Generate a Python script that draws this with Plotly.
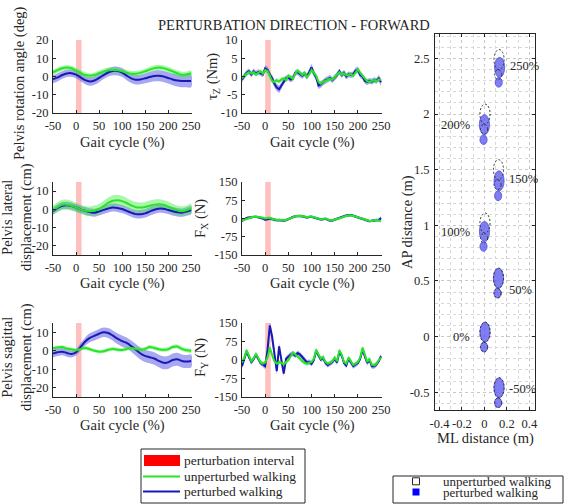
import plotly.graph_objects as go
import numpy as np

# ---------------- data ----------------
gait_x = list(range(-50, 251, 10))
force_x = list(range(-50, 251, 5))
perturbation_interval = [0, 12]

rot_unpert = [2.2, 3.5, 4.5, 4.9, 4.5, 3.3, 2.0, 0.8, 0.4, 0.8, 1.8, 2.8, 3.4, 3.6, 3.4, 2.8, 2.0, 1.5, 1.5, 2.0,
              2.8, 3.8, 4.6, 4.9, 4.6, 3.8, 2.8, 1.8, 1.0, 1.2, 1.8]
rot_unpert_sd = [1.5, 1.5, 1.4, 1.4, 1.4, 1.5, 1.5, 1.5, 1.4, 1.4, 1.5, 1.5, 1.5, 1.4, 1.4, 1.5, 1.5, 1.5, 1.5, 1.4,
                 1.4, 1.5, 1.5, 1.5, 1.5, 1.5, 1.6, 1.6, 1.6, 1.6, 1.6]
rot_pert = [-1.5, -0.5, 0.8, 1.7, 1.8, 1.0, -0.5, -2.0, -2.7, -2.2, -0.8, 0.8, 2.2, 3.0, 3.0, 2.2, 0.5, -1.0, -1.8,
            -1.6, -1.0, -0.3, 0.3, 0.4, 0.0, -0.8, -1.6, -2.2, -2.5, -2.5, -2.4]
rot_pert_sd = [2.2, 2.2, 2.1, 2.0, 2.0, 2.0, 2.1, 2.2, 2.3, 2.3, 2.3, 2.2, 2.2, 2.3, 2.4, 2.4, 2.5, 2.5, 2.6, 2.6,
               2.7, 2.8, 2.9, 3.0, 3.0, 3.1, 3.2, 3.3, 3.4, 3.4, 3.5]

lat_unpert = [-0.5, 1.2, 2.5, 2.6, 2.0, 1.0, 0.0, -0.8, -1.0, -0.6, 0.2, 1.8, 3.5, 4.7, 5.0, 4.5, 3.5, 2.2, 1.2, 1.0,
              1.3, 2.0, 2.6, 2.8, 2.5, 1.6, 0.5, -0.5, -1.0, -0.5, 0.5]
lat_unpert_sd = [2.6, 2.7, 2.8, 2.8, 2.7, 2.6, 2.5, 2.5, 2.6, 2.7, 2.8, 2.9, 3.0, 3.0, 3.0, 2.9, 2.8, 2.8, 2.8, 2.8,
                 2.8, 2.8, 2.8, 2.8, 2.7, 2.7, 2.6, 2.6, 2.6, 2.6, 2.6]
lat_pert = [-1.0, 0.8, 2.0, 2.2, 1.8, 1.0, 0.0, -0.8, -1.5, -1.8, -1.2, -0.3, 0.5, 1.0, 0.8, 0.2, -0.8, -1.8, -2.6,
            -2.7, -2.2, -1.2, -0.2, 0.4, 0.3, -0.3, -1.0, -1.6, -1.8, -1.2, -0.4]
lat_pert_sd = [2.0, 2.0, 2.0, 2.0, 2.0, 2.0, 2.0, 2.1, 2.1, 2.2, 2.2, 2.2, 2.2, 2.2, 2.2, 2.2, 2.2, 2.2, 2.3, 2.3,
               2.3, 2.3, 2.3, 2.3, 2.3, 2.3, 2.3, 2.3, 2.3, 2.3, 2.3]

sag_unpert = [1.3, 1.8, 2.0, 1.2, 0.8, 0.3, 1.0, 1.5, 0.8, 0.0, -0.5, -0.3, 0.5, 1.0, 0.6, 0.4, 1.0, 1.5, 1.0, 0.5,
              1.0, 2.0, 1.5, 0.8, 0.5, 0.8, 2.0, 2.3, 1.0, 0.3, 0.0]
sag_unpert_sd = [1.0, 1.0, 1.0, 1.0, 1.0, 1.0, 1.0, 1.0, 1.0, 1.0, 1.0, 1.0, 1.0, 1.0, 1.0, 1.0, 1.0, 1.1, 1.1, 1.1,
                 1.1, 1.1, 1.1, 1.1, 1.1, 1.1, 1.1, 1.1, 1.1, 1.1, 1.1]
sag_pert = [-1.5, -0.8, -0.5, -1.2, -1.8, -0.8, 2.0, 5.0, 7.0, 8.0, 9.2, 10.0, 9.6, 8.2, 6.5, 5.2, 4.2, 2.5, 0.5,
            -1.5, -2.8, -3.5, -4.2, -5.5, -6.5, -6.3, -5.0, -4.6, -5.5, -5.8, -5.5]
sag_pert_sd = [2.0, 2.0, 2.0, 2.0, 1.8, 1.8, 2.0, 2.2, 2.4, 2.5, 2.6, 2.6, 2.7, 2.8, 2.9, 3.0, 3.0, 3.1, 3.2, 3.2,
               3.3, 3.3, 3.4, 3.4, 3.5, 3.5, 3.5, 3.5, 3.5, 3.5, 3.5]

tz_unpert = [-0.5, 0.2, 0.8, 1.2, 0.8, 1.2, 0.6, 1.0, 1.4, 0.8, 1.8, 1.5, 0.2, -1.2, -1.5, -1.0, -1.4, -0.8, -0.6,
             -1.0, 0.2, -0.3, -0.6, 0.8, 1.6, 1.0, 0.4, 1.0, -0.2, 0.6, 1.8, 1.0, 0.2, -1.5, -2.0, -1.5, -1.2, -0.9,
             -0.6, -0.9, -0.2, 0.6, 1.2, 0.5, 0.9, 0.3, 0.4, 0.6, 0.2, 1.2, 2.0, 1.0, 0.2, -0.8, -1.3, -1.4, -1.2,
             -1.0, -1.3, -0.8, -1.0]
tz_unpert_sd = [0.6, 0.6, 0.6, 0.6, 0.6, 0.6, 0.6, 0.6, 0.6, 0.6, 0.7, 0.7, 0.7, 0.7, 0.6, 0.6, 0.6, 0.6, 0.6, 0.6,
                0.6, 0.6, 0.6, 0.6, 0.6, 0.6, 0.6, 0.6, 0.6, 0.6, 0.7, 0.7, 0.6, 0.6, 0.6, 0.6, 0.6, 0.6, 0.6, 0.6,
                0.6, 0.6, 0.6, 0.6, 0.6, 0.6, 0.6, 0.6, 0.6, 0.6, 0.7, 0.7, 0.6, 0.6, 0.6, 0.6, 0.6, 0.6, 0.6, 0.6,
                0.6]
tz_pert = [-0.8, 0.0, 1.0, 1.4, 0.6, 1.4, 0.8, 1.2, 1.0, 0.6, 2.2, 1.8, 0.5, -0.5, -2.0, -3.0, -3.5, -2.5, -1.2,
           -0.5, -0.3, -0.8, -0.4, 1.0, 1.2, 0.6, 0.2, 0.8, 0.0, 1.2, 2.5, 0.8, -0.2, -2.5, -2.2, -1.6, -1.0, -0.8,
           -0.4, -1.0, -0.4, 0.4, 1.4, 0.4, 1.0, 0.0, 0.6, 0.4, 0.6, 1.6, 1.8, 0.4, 0.0, -1.2, -1.5, -1.2, -1.4,
           -1.0, -1.2, -0.5, -1.6]
tz_pert_sd = [0.8, 0.8, 0.8, 0.8, 0.8, 0.8, 0.8, 0.8, 0.8, 0.8, 0.9, 0.9, 0.9, 1.0, 1.0, 1.0, 1.0, 0.9, 0.9, 0.8,
              0.8, 0.8, 0.8, 0.8, 0.8, 0.8, 0.8, 0.8, 0.8, 0.9, 1.0, 0.9, 0.8, 0.9, 0.9, 0.8, 0.8, 0.8, 0.8, 0.8,
              0.8, 0.8, 0.8, 0.8, 0.8, 0.8, 0.8, 0.8, 0.8, 0.9, 0.9, 0.8, 0.8, 0.8, 0.8, 0.8, 0.8, 0.8, 0.8, 0.9,
              1.0]

fx_unpert = [-8, -4, 0, 3, 5, 7, 8, 6, 5, 2, 0, 2, 3, -1, -5, -6, -5, -7, -8, -6, -3, 1, 5, 10, 12, 11, 10, 7, 5,
             7, 8, 5, 2, -1, -3, -2, 0, -4, -8, -7, -5, -2, 0, 4, 8, 11, 12, 13, 12, 8, 5, 2, 0, -4, -8, -10, -10,
             -8, -5, -8, -12]
fx_unpert_sd = [5, 5, 5, 5, 5, 5, 5, 5, 5, 5, 5, 5, 5, 5, 5, 5, 5, 5, 5, 5, 5, 5, 5, 5, 5, 5, 5, 5, 5, 5, 5, 5, 5,
                5, 5, 5, 5, 5, 5, 5, 5, 5, 5, 5, 5, 5, 5, 5, 5, 5, 5, 5, 5, 5, 5, 5, 5, 5, 5, 5, 5]
fx_pert = [-10, -3, 2, 4, 6, 8, 7, 5, 3, 0, -5, -3, 0, -2, -6, -7, -6, -8, -9, -7, -2, 2, 6, 9, 11, 10, 9, 6, 4, 6,
           7, 4, 1, -2, -4, -3, -1, -5, -9, -8, -4, -1, 1, 5, 9, 12, 13, 14, 11, 7, 4, 1, -1, -5, -9, -11, -9, -7,
           -6, -6, 2]
fx_pert_sd = [5, 5, 5, 5, 5, 5, 5, 5, 5, 5, 6, 6, 6, 6, 6, 5, 5, 5, 5, 5, 5, 5, 5, 5, 5, 5, 5, 5, 5, 5, 5, 5, 5, 5,
              5, 5, 5, 5, 5, 5, 5, 5, 5, 5, 5, 5, 5, 5, 5, 5, 5, 5, 5, 5, 5, 5, 5, 5, 5, 6, 7]

fy_unpert = [-10, 10, 40, 15, -5, 5, 25, 8, -10, -15, -10, 10, 50, 20, -5, -15, -8, -12, -18, -8, 0, 15, 30, 22, 15,
             5, -5, -12, -15, -10, -8, 5, 42, 22, 5, 12, -8, -15, -12, -5, 10, -5, 40, 22, -8, -15, 10, -5, -20,
             -15, -8, 10, 50, 22, -8, 5, -20, -22, -15, 0, 10]
fy_unpert_sd = [8, 8, 8, 8, 8, 8, 8, 8, 8, 8, 8, 8, 9, 8, 8, 8, 8, 8, 8, 8, 8, 8, 8, 8, 8, 8, 8, 8, 8, 8, 8, 8, 8,
                8, 8, 8, 8, 8, 8, 8, 8, 8, 8, 8, 8, 8, 8, 8, 8, 8, 8, 8, 9, 8, 8, 8, 8, 8, 8, 8, 8]
fy_pert = [-25, 5, 35, 12, -8, 3, 22, 5, -12, -18, -25, 40, 140, 95, 15, -45, 55, 5, -55, 5, 15, 22, 25, 18, 28, 22,
           12, 0, -10, -8, -15, 0, 38, 18, 2, 8, -12, -20, -15, -8, 5, -10, 32, 18, -12, -22, 5, -10, -25, -18, -12,
           5, 42, 15, -12, 0, -25, -25, -18, -5, 15]
fy_pert_sd = [10, 10, 10, 10, 10, 10, 10, 10, 10, 10, 12, 15, 18, 16, 14, 14, 14, 12, 12, 10, 10, 10, 10, 10, 10,
              10, 10, 10, 10, 10, 10, 10, 10, 10, 10, 10, 10, 10, 10, 10, 10, 10, 10, 10, 10, 10, 10, 10, 10, 10, 10,
              10, 10, 10, 10, 10, 10, 10, 10, 10, 10]

# footprints (forefoot centres, metres)
fp_labels = ['-50%', '0%', '50%', '100%', '150%', '200%', '250%']
pert_ml = [0.13, 0.005, 0.125, 0.0, 0.13, 0.0, 0.135]
pert_ap = [-0.46, 0.04, 0.525, 0.945, 1.40, 1.905, 2.42]
unpert_ml = [0.13, 0.005, 0.125, 0.005, 0.125, 0.005, 0.13]
unpert_ap = [-0.46, 0.04, 0.525, 1.02, 1.50, 2.00, 2.49]
label_ap = [-0.47, 0.0, 0.42, 0.94, 1.42, 1.90, 2.43]

line_legend_labels = ['perturbation interval', 'unperturbed walking', 'perturbed walking']
foot_legend_labels = ['unperturbed walking', 'perturbed walking']

# ---------------- style ----------------
W, H = 565, 504
GREEN = 'rgb(40,228,40)'
GREEN_BAND = 'rgba(70,235,70,0.45)'
BLUE = 'rgb(25,25,180)'
BLUE_BAND = 'rgba(80,80,230,0.5)'
RED_BAND = 'rgba(255,0,0,0.25)'
FP_FILL = 'rgba(95,95,238,0.8)'
FONT = 'Liberation Serif'
AX = '#262626'
TICKF = dict(family=FONT, size=12.5, color=AX)


def px(x):
    return x / W


def py(y):
    return 1 - y / H


def dx(a, b):
    return [px(a), px(b)]


def dy(top, bottom):
    return [py(bottom), py(top)]


fig = go.Figure()

panels = [
    # axis suffix, xdom, ydom, x, unpert, usd, pert, psd, yrange, yticks, smooth
    ('', dx(53, 192), dy(40, 113), gait_x, rot_unpert, rot_unpert_sd, rot_pert, rot_pert_sd, [-20, 20],
     [-20, -10, 0, 10, 20], True),
    ('2', dx(242, 382), dy(40, 113), force_x, tz_unpert, tz_unpert_sd, tz_pert, tz_pert_sd, [-10, 10],
     [-10, -5, 0, 5, 10], False),
    ('3', dx(53, 192), dy(182, 255), gait_x, lat_unpert, lat_unpert_sd, lat_pert, lat_pert_sd, [-25, 15],
     [-20, -10, 0, 10], True),
    ('4', dx(242, 382), dy(182, 255), force_x, fx_unpert, fx_unpert_sd, fx_pert, fx_pert_sd, [-150, 150],
     [-150, -75, 0, 75, 150], False),
    ('5', dx(53, 192), dy(323, 397), gait_x, sag_unpert, sag_unpert_sd, sag_pert, sag_pert_sd, [-25, 15],
     [-20, -10, 0, 10], True),
    ('6', dx(242, 382), dy(323, 397), force_x, fy_unpert, fy_unpert_sd, fy_pert, fy_pert_sd, [-150, 150],
     [-150, -75, 0, 75, 150], False),
]

shapes = []
layout_axes = {}
for i, (s, xd, yd, x, u, usd, p, psd, yr, yt, smooth) in enumerate(panels):
    xa, ya = 'x' + s, 'y' + s
    shape = 'spline' if smooth else 'linear'
    u, usd, p, psd = map(np.array, (u, usd, p, psd))
    xx = list(x) + list(x)[::-1]
    for mean, sd, col in ((p, psd, BLUE_BAND), (u, usd, GREEN_BAND)):
        fig.add_trace(go.Scatter(x=xx, y=list(mean + sd) + list((mean - sd)[::-1]), fill='toself',
                                 fillcolor=col, line=dict(width=0, shape=shape), mode='lines',
                                 hoverinfo='skip', xaxis=xa, yaxis=ya))
    fig.add_trace(go.Scatter(x=x, y=p, mode='lines', line=dict(color=BLUE, width=2, shape=shape),
                             name='perturbed walking', xaxis=xa, yaxis=ya))
    fig.add_trace(go.Scatter(x=x, y=u, mode='lines', line=dict(color=GREEN, width=2, shape=shape),
                             name='unperturbed walking', xaxis=xa, yaxis=ya))
    shapes.append(dict(type='rect', xref=xa, yref=ya + ' domain', x0=perturbation_interval[0],
                       x1=perturbation_interval[1], y0=0, y1=1, fillcolor=RED_BAND, line=dict(width=0),
                       layer='below'))
    common = dict(showline=True, linecolor=AX, linewidth=1, ticks='inside', ticklen=3, tickcolor=AX,
                  showgrid=False, zeroline=False, tickfont=TICKF, ticklabelstandoff=1, automargin=False,
                  tickangle=0)
    layout_axes['xaxis' + s] = dict(domain=xd, anchor=ya, range=[-50, 252], tickvals=list(range(-50, 251, 50)),
                                    ticktext=[str(v) for v in range(-50, 251, 50)], **common)
    layout_axes['yaxis' + s] = dict(domain=yd, anchor=xa, range=yr, tickvals=yt,
                                    ticktext=[str(v) for v in yt], **common)

# ---------------- footprint panel ----------------
FF_W, FF_H = 0.045, 0.09    # forefoot semi-axes
HL_W, HL_H = 0.032, 0.043   # heel semi-axes
HEEL_DY, HEEL_DX = 0.135, -0.008
PERT_LINE = dict(width=0.8, color='rgba(70,70,225,0.9)')
UNPERT_LINE = dict(width=1, color='#333', dash='2px,2px')
for ml, ap in zip(pert_ml, pert_ap):
    shapes.append(dict(type='circle', xref='x7', yref='y7', x0=ml - FF_W, x1=ml + FF_W, y0=ap - FF_H,
                       y1=ap + FF_H, fillcolor=FP_FILL, line=PERT_LINE))
    hx, hy = ml + HEEL_DX, ap - HEEL_DY
    shapes.append(dict(type='circle', xref='x7', yref='y7', x0=hx - HL_W, x1=hx + HL_W, y0=hy - HL_H,
                       y1=hy + HL_H, fillcolor=FP_FILL, line=PERT_LINE))
for ml, ap in zip(unpert_ml, unpert_ap):
    shapes.append(dict(type='circle', xref='x7', yref='y7', x0=ml - FF_W, x1=ml + FF_W, y0=ap - FF_H,
                       y1=ap + FF_H, line=UNPERT_LINE))
    hx, hy = ml + HEEL_DX, ap - HEEL_DY
    shapes.append(dict(type='circle', xref='x7', yref='y7', x0=hx - HL_W, x1=hx + HL_W, y0=hy - HL_H,
                       y1=hy + HL_H, line=UNPERT_LINE))
# invisible trace so the footprint axes get drawn
fig.add_trace(go.Scatter(x=[None], y=[None], mode='markers', xaxis='x7', yaxis='y7', hoverinfo='skip'))

annotations = []
for lab, ml, lap in zip(fp_labels, pert_ml, label_ap):
    right = ml > 0.06
    annotations.append(dict(text=lab, xref='x7', yref='y7', x=ml + (0.075 if right else -0.115), y=lap,
                            xanchor='left' if right else 'right', yanchor='middle', showarrow=False,
                            font=dict(family=FONT, size=12.5, color=AX)))

grid_x = list(np.round(np.arange(-0.4, 0.41, 0.1), 2))
grid_y = list(np.round(np.arange(-0.6, 2.71, 0.1), 2))
right_common = dict(showline=True, mirror='ticks', linecolor=AX, linewidth=1, ticks='inside', ticklen=3,
                    tickcolor=AX, showgrid=True, gridcolor='#c8c8c8', griddash='dot', zeroline=False,
                    tickfont=TICKF, ticklabelstandoff=2, automargin=False, tickangle=0)
layout_axes['xaxis7'] = dict(domain=dx(435, 535), anchor='y7', range=[-0.44, 0.45],
                             tickvals=[-0.4, -0.2, 0, 0.2, 0.4], ticktext=['-0.4', '-0.2', '0', '0.2', '0.4'],
                             minor=dict(tickmode='array', tickvals=grid_x, showgrid=True, gridcolor='#d8d8d8',
                                        griddash='dot', ticks=''), **right_common)
layout_axes['yaxis7'] = dict(domain=dy(34, 410), anchor='x7', range=[-0.66, 2.72],
                             tickvals=[-0.5, 0, 0.5, 1, 1.5, 2, 2.5],
                             ticktext=['-0.5', '0', '0.5', '1', '1.5', '2', '2.5'],
                             minor=dict(tickmode='array', tickvals=grid_y, showgrid=True, gridcolor='#d8d8d8',
                                        griddash='dot', ticks=''), **right_common)


# ---------------- text ----------------
def ann(text, xpx, ypx, size=14.5, angle=0, xanchor='center'):
    return dict(text=text, xref='paper', yref='paper', x=px(xpx), y=py(ypx),
                xanchor=xanchor, yanchor='middle', showarrow=False, textangle=angle,
                font=dict(family=FONT, size=size, color=AX))


annotations += [
    ann('PERTURBATION DIRECTION - FORWARD', 294, 25),
    ann('Pelvis rotation angle (deg)', 20, 83, angle=-90),
    ann('Pelvis lateral<br>displacement (cm)', 17, 217, angle=-90),
    ann('Pelvis sagittal<br>displacement (cm)', 17, 357, angle=-90),
    ann('τ<sub>Z</sub> (Nm)', 213, 77, angle=-90),
    ann('F<sub>X</sub> (N)', 201, 219, angle=-90),
    ann('F<sub>Y</sub> (N)', 201, 358, angle=-90),
    ann('AP distance (m)', 407, 222, angle=-90),
    ann('ML distance (m)', 485, 438),
]
for ypx in (142, 283, 425):
    annotations.append(ann('Gait cycle (%)', 122, ypx))
    annotations.append(ann('Gait cycle (%)', 312, ypx))


# ---------------- legends (drawn in page pixels) ----------------
def prect(x0, y0, x1, y1, **kw):
    return dict(type='rect', xref='paper', yref='paper', x0=px(x0), x1=px(x1), y0=py(y1), y1=py(y0), **kw)


def pline(x0, x1, y, color, width=2):
    return dict(type='line', xref='paper', yref='paper', x0=px(x0), x1=px(x1), y0=py(y), y1=py(y),
                line=dict(color=color, width=width))


shapes += [
    prect(141, 449, 305, 503, fillcolor='white', line=dict(color=AX, width=1)),
    prect(144, 455, 180, 466, fillcolor='red', line=dict(width=0)),
    pline(143, 180, 476.5, GREEN),
    pline(143, 180, 491.5, BLUE),
    prect(393, 476, 563, 503, fillcolor='white', line=dict(color=AX, width=1)),
    prect(412.5, 477.8, 419.5, 484.8, fillcolor='white', line=dict(color=AX, width=1)),
    prect(412.5, 488.5, 419.5, 495.5, fillcolor='blue', line=dict(width=0)),
]
for lab, ypx in zip(line_legend_labels, (460.5, 476.5, 491.5)):
    annotations.append(ann(lab, 182, ypx, size=13.5, xanchor='left'))
for lab, ypx in zip(foot_legend_labels, (481, 492)):
    annotations.append(ann(lab, 441, ypx, size=13, xanchor='left'))

fig.update_layout(
    template='none', showlegend=False,
    width=W, height=H, autosize=False, margin=dict(l=0, r=0, t=0, b=0, autoexpand=False),
    paper_bgcolor='white', plot_bgcolor='white',
    shapes=shapes, annotations=annotations,
    **layout_axes,
)

fig.write_html('out.html', config={'displayModeBar': False},
               post_script="document.body.style.margin='0px';")
